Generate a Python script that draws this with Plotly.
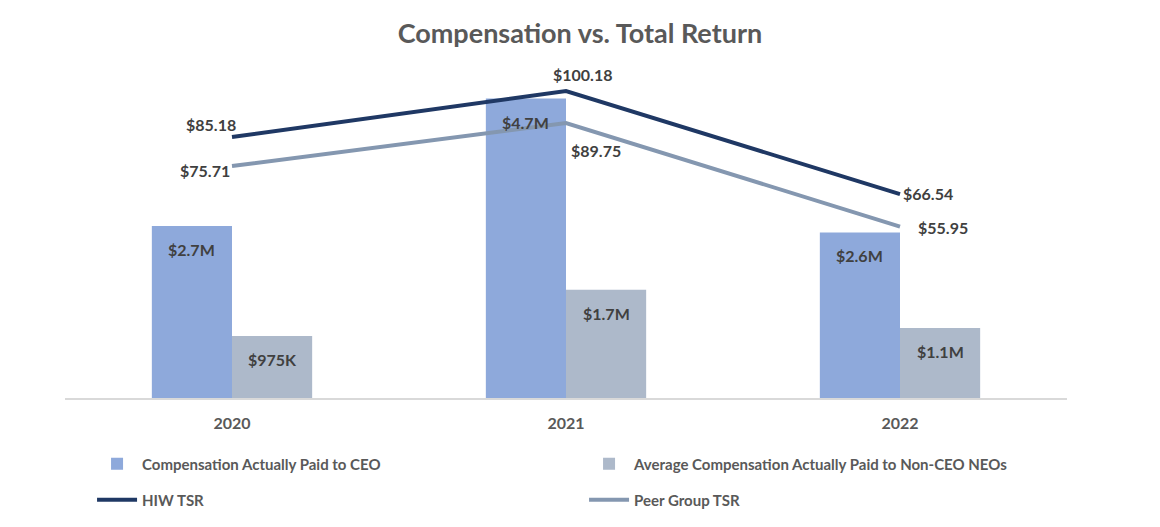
import plotly.graph_objects as go

years = ["2020", "2021", "2022"]
ceo_pay = [2.7e6, 4.7e6, 2.6e6]
ceo_labels = ["$2.7M", "$4.7M", "$2.6M"]
neo_pay = [0.975e6, 1.7e6, 1.1e6]
neo_labels = ["$975K", "$1.7M", "$1.1M"]
hiw_tsr = [85.18, 100.18, 66.54]
peer_tsr = [75.71, 89.75, 55.95]

FONT = "Lato"
LABEL_COLOR = "#404040"

fig = go.Figure()
fig.add_trace(go.Bar(x=years, y=ceo_pay, name="Compensation Actually Paid to CEO",
                     marker=dict(color="#8EA9DB", line=dict(width=0)), hoverinfo="skip",
                     legend="legend"))
fig.add_trace(go.Bar(x=years, y=neo_pay, name="Average Compensation Actually Paid to Non-CEO NEOs",
                     marker=dict(color="#ADB9CA", line=dict(width=0)), hoverinfo="skip",
                     legend="legend"))
fig.add_trace(go.Scatter(x=years, y=hiw_tsr, name="HIW TSR", mode="lines", yaxis="y2",
                         line=dict(color="#1F3864", width=4), legend="legend2"))
fig.add_trace(go.Scatter(x=years, y=peer_tsr, name="Peer Group TSR", mode="lines", yaxis="y2",
                         line=dict(color="#8497B0", width=4), legend="legend2"))

ann = []
lab_font = dict(family=FONT, size=16, color=LABEL_COLOR, weight="bold")
off = 0.12
for i in range(len(years)):
    ann.append(dict(x=i - off, y=ceo_pay[i], xref="x", yref="y", text=ceo_labels[i],
                    showarrow=False, yanchor="top", yshift=-12, font=lab_font))
    ann.append(dict(x=i + off, y=neo_pay[i], xref="x", yref="y", text=neo_labels[i],
                    showarrow=False, yanchor="top", yshift=-12, font=lab_font))

hiw_pos = [dict(xanchor="right", xshift=6, yshift=12),
           dict(xanchor="center", xshift=16, yshift=17),
           dict(xanchor="left", xshift=1, yshift=1)]
peer_pos = [dict(xanchor="right", xshift=0, yshift=-4),
            dict(xanchor="left", xshift=3, yshift=-28),
            dict(xanchor="left", xshift=16, yshift=-1)]
for i in range(len(years)):
    ann.append(dict(x=i, y=hiw_tsr[i], xref="x", yref="y2", text=f"${hiw_tsr[i]:.2f}",
                    showarrow=False, yanchor="middle", font=lab_font, **hiw_pos[i]))
    ann.append(dict(x=i, y=peer_tsr[i], xref="x", yref="y2", text=f"${peer_tsr[i]:.2f}",
                    showarrow=False, yanchor="middle", font=lab_font, **peer_pos[i]))

W, H = 1152, 519
legend_font = dict(family=FONT, size=15, color="#595959", weight="bold")
common_legend = dict(orientation="h", x=0.027, xref="paper", yref="paper",
                     yanchor="middle", xanchor="left",
                     entrywidth=437, entrywidthmode="pixels",
                     font=legend_font, traceorder="normal", itemwidth=40)

fig.update_layout(
    width=W, height=H,
    margin=dict(l=57, r=93, t=52, b=129, autoexpand=False),
    paper_bgcolor="white", plot_bgcolor="white",
    title=dict(text="Compensation vs. Total Return", x=0.4965, xref="container", xanchor="center",
               y=1 - 26 / H, yref="container", yanchor="middle",
               font=dict(family=FONT, size=27, color="#595959", weight="bold")),
    barmode="group", bargap=0.52, bargroupgap=0,
    xaxis=dict(type="category", showgrid=False, showline=True, linecolor="#D9D9D9", linewidth=2,
               ticks="", tickfont=dict(family=FONT, size=16, color="#595959", weight="bold"),
               ticklabelstandoff=10),
    yaxis=dict(range=[0, 5.306e6], visible=False, showgrid=False),
    yaxis2=dict(range=[0, 110.3], overlaying="y", side="right", visible=False, showgrid=False),
    legend=dict(y=-0.195, **common_legend),
    legend2=dict(y=-0.302, **common_legend),
    annotations=ann,
    showlegend=True,
)

fig.write_html("out.html")
